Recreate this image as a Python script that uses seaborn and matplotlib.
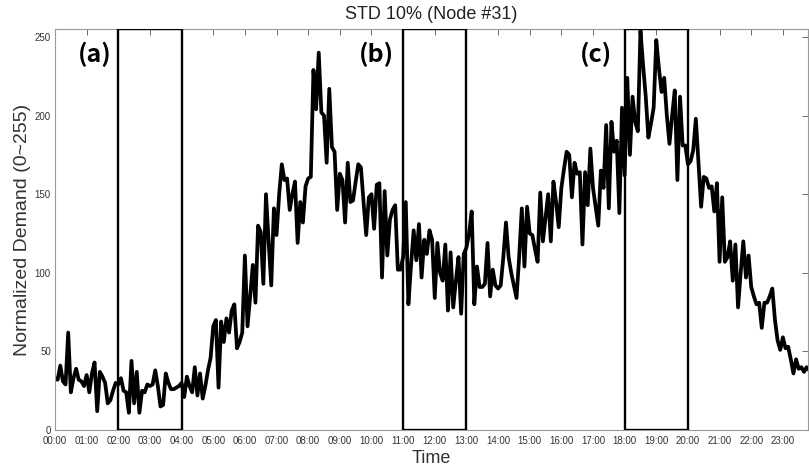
import numpy as np
import pandas as pd
import matplotlib
matplotlib.use('Agg')
import matplotlib.pyplot as plt
import seaborn as sns
from matplotlib.patches import Rectangle

# 5-minute samples, one list per hour
H00 = [33, 32, 41, 31, 29, 62, 24, 33, 39, 32, 31, 28]
H01 = [35, 24, 36, 43, 12, 37, 34, 30, 17, 19, 25, 30]
H02 = [29, 33, 25, 24, 11, 44, 17, 37, 11, 25, 24, 29]
H03 = [28, 29, 38, 28, 15, 16, 36, 30, 26, 26, 27, 28]
H04 = [30, 21, 34, 28, 24, 40, 22, 36, 20, 28, 38, 46]
H05 = [66, 70, 27, 69, 56, 71, 62, 76, 80, 52, 56, 62]
H06 = [111, 66, 85, 105, 81, 130, 126, 93, 150, 120, 92, 141]
H07 = [124, 150, 169, 159, 160, 140, 150, 158, 119, 145, 132, 155]
H08 = [160, 161, 229, 204, 240, 202, 200, 170, 217, 180, 177, 140]
H09 = [163, 159, 132, 170, 145, 146, 158, 169, 167, 145, 124, 148]
H10 = [150, 128, 156, 157, 97, 152, 111, 134, 140, 143, 102, 102]
H11 = [110, 145, 80, 105, 127, 108, 131, 97, 121, 112, 127, 121]
H12 = [84, 119, 100, 95, 118, 76, 113, 78, 95, 110, 74, 112]
H13 = [116, 125, 139, 80, 104, 91, 91, 93, 119, 85, 102, 92]
H14 = [90, 92, 110, 132, 110, 100, 92, 84, 110, 141, 104, 142]
H15 = [125, 124, 115, 107, 151, 120, 135, 150, 120, 158, 145, 129]
H16 = [154, 166, 177, 175, 148, 170, 163, 164, 118, 164, 143, 179]
H17 = [154, 142, 130, 165, 154, 194, 141, 196, 177, 184, 138, 205]
H18 = [162, 224, 175, 212, 196, 190, 254, 232, 212, 186, 195, 205]
H19 = [248, 230, 215, 224, 200, 182, 200, 216, 159, 212, 181, 181]
H20 = [169, 171, 178, 198, 170, 142, 161, 160, 154, 155, 139, 157]
H21 = [107, 148, 107, 110, 120, 95, 118, 78, 100, 120, 97, 111]
H22 = [91, 85, 80, 81, 65, 81, 81, 85, 90, 70, 57, 51]
H23 = [59, 52, 53, 45, 36, 45, 39, 40, 37, 40, 38]

demand = (H00 + H01 + H02 + H03 + H04 + H05 + H06 + H07 + H08 + H09 + H10 + H11 +
          H12 + H13 + H14 + H15 + H16 + H17 + H18 + H19 + H20 + H21 + H22 + H23)
hours = np.arange(len(demand)) / 12.0

tick_hours = list(range(24))
tick_labels = ['%02d:00' % h for h in tick_hours]

windows = [(2, 4), (11, 13), (18, 20)]
window_labels = ['(a)', '(b)', '(c)']
label_hours = [1.26, 10.17, 17.1]

df = pd.DataFrame({'Time': hours, 'Demand': demand})

sns.set_style('white')
plt.rcParams['font.family'] = ['Liberation Sans', 'DejaVu Sans']

fig = plt.figure(figsize=(8.09, 4.69), dpi=100)
ax = fig.add_axes([0.068, 0.083, 0.931, 0.855])

sns.lineplot(data=df, x='Time', y='Demand', color='black', linewidth=2.7, ax=ax)

for (x0, x1) in windows:
    ax.add_patch(Rectangle((x0, 0), x1 - x0, 255, fill=False,
                           edgecolor='black', linewidth=1.7, zorder=3))

for lab, xh in zip(window_labels, label_hours):
    ax.text(xh, 239, lab, ha='center', va='center', fontsize=18,
            fontweight='bold', family=['Noto Sans CJK KR', 'DejaVu Sans'], color='black')

ax.set_xlim(0, 23.8)
ax.set_ylim(0, 255)
ax.set_xticks(tick_hours)
ax.set_xticklabels(tick_labels)
ax.set_yticks([0, 50, 100, 150, 200, 250])
ax.tick_params(axis='both', direction='in', top=True, right=True, length=4,
               width=0.6, color='#555555', labelsize=7, labelcolor='#333333')
ax.tick_params(axis='x', pad=4.5)
ax.tick_params(axis='y', pad=3)

for sp in ax.spines.values():
    sp.set_color('#999999')
    sp.set_linewidth(0.8)

ax.set_title('STD 10% (Node #31)', fontsize=13, color='#222222', pad=7)
ax.set_xlabel('Time', fontsize=13, color='#333333', labelpad=3)
ax.set_ylabel('Normalized Demand (0~255)', fontsize=14, color='#333333', labelpad=3)

fig.savefig('out.png', dpi=100)
